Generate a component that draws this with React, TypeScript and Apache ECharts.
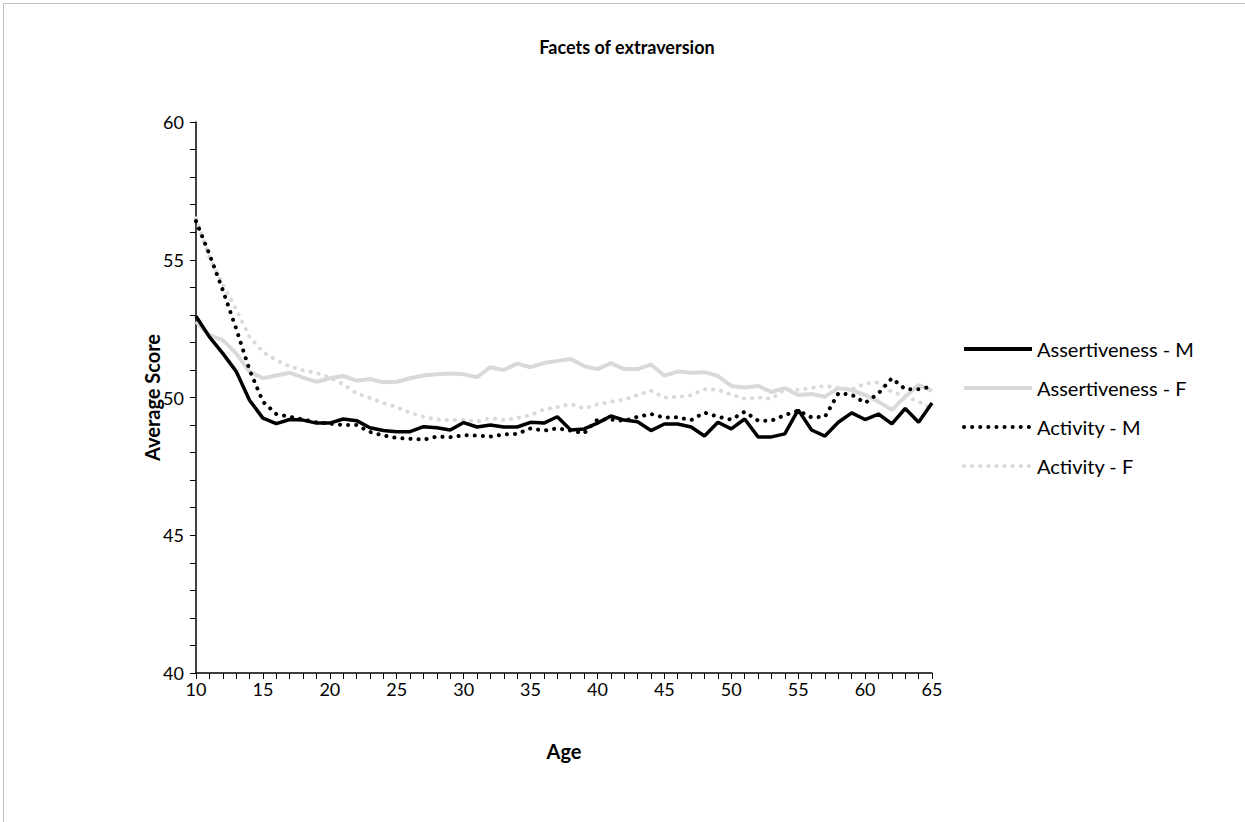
import React, { useEffect, useRef } from "react";
import * as echarts from "echarts";

const ages = [
  10, 11, 12, 13, 14, 15, 16, 17, 18, 19, 20, 21, 22, 23, 24, 25, 26, 27, 28, 29,
  30, 31, 32, 33, 34, 35, 36, 37, 38, 39, 40, 41, 42, 43, 44, 45, 46, 47, 48, 49,
  50, 51, 52, 53, 54, 55, 56, 57, 58, 59, 60, 61, 62, 63, 64, 65,
];

const assertivenessM = [
  52.95, 52.2, 51.6, 50.95, 49.9, 49.25, 49.05, 49.2, 49.18, 49.07, 49.07, 49.22, 49.16, 48.9, 48.8, 48.76, 48.76, 48.94, 48.9, 48.82,
  49.09, 48.93, 49.0, 48.93, 48.93, 49.1, 49.07, 49.3, 48.82, 48.86, 49.07, 49.33, 49.18, 49.12, 48.8, 49.04, 49.04, 48.93, 48.6, 49.1,
  48.86, 49.22, 48.57, 48.57, 48.68, 49.55, 48.82, 48.6, 49.1, 49.44, 49.2, 49.4, 49.04, 49.6, 49.1, 49.8,
];

const assertivenessF = [
  52.75, 52.27, 52.08, 51.6, 50.94, 50.7, 50.8, 50.9, 50.72, 50.57, 50.7, 50.78, 50.61, 50.67, 50.55, 50.57, 50.7, 50.8, 50.84, 50.87,
  50.84, 50.74, 51.1, 51.0, 51.23, 51.1, 51.25, 51.33, 51.4, 51.14, 51.03, 51.25, 51.03, 51.03, 51.2, 50.8, 50.94, 50.9, 50.92, 50.78,
  50.42, 50.36, 50.42, 50.2, 50.34, 50.09, 50.13, 50.03, 50.34, 50.27, 50.09, 49.85, 49.55, 50.03, 50.45, 50.25,
];

const activityM = [
  56.4, 55.2, 53.9, 52.5, 51.0, 49.85, 49.4, 49.3, 49.2, 49.1, 49.05, 49.0, 49.0, 48.75, 48.62, 48.53, 48.5, 48.47, 48.58, 48.56,
  48.63, 48.62, 48.58, 48.66, 48.68, 48.88, 48.8, 48.88, 48.8, 48.7, 49.2, 49.2, 49.15, 49.3, 49.4, 49.27, 49.28, 49.18, 49.45, 49.3,
  49.2, 49.48, 49.16, 49.16, 49.36, 49.52, 49.28, 49.3, 50.15, 50.1, 49.8, 50.15, 50.7, 50.3, 50.3, 50.4,
];

const activityF = [
  56.5, 55.1, 54.1, 53.2, 52.2, 51.65, 51.36, 51.13, 50.98, 50.89, 50.72, 50.48, 50.15, 49.98, 49.8, 49.65, 49.45, 49.3, 49.2, 49.18,
  49.18, 49.13, 49.25, 49.18, 49.25, 49.36, 49.57, 49.65, 49.76, 49.6, 49.75, 49.85, 49.92, 50.09, 50.25, 50.0, 50.02, 50.08, 50.3, 50.28,
  50.1, 49.95, 50.0, 49.95, 50.3, 50.28, 50.35, 50.42, 50.35, 50.3, 50.5, 50.55, 50.2, 50.05, 49.85, 49.6,
];

const seriesNames = ["Assertiveness - M", "Assertiveness - F", "Activity - M", "Activity - F"];

const BLACK = "#000000";
const GRAY = "#d9d9d9";
const FONT = "Lato, 'Open Sans', sans-serif";

export default function App() {
  const ref = useRef<HTMLDivElement>(null);

  useEffect(() => {
    if (!ref.current) return;
    const chart = echarts.init(ref.current, undefined, { renderer: "svg" });
    const pair = (vals: number[]) => ages.map((a, i) => [a, vals[i]]);
    const dotted = [0.1, 8];

    chart.setOption({
      animation: false,
      backgroundColor: "#ffffff",
      textStyle: { fontFamily: FONT },
      title: {
        text: "Facets of extraversion",
        left: 622,
        top: 33,
        textAlign: "center",
        textStyle: { fontFamily: FONT, fontWeight: "bold", fontSize: 18, color: "#000" },
      },
      graphic: [
        {
          type: "polyline",
          shape: { points: [[3.5, 900], [3.5, 3.5], [1300, 3.5]] },
          style: { stroke: "#bfbfbf", lineWidth: 1, fill: "none" },
          silent: true,
        },
      ],
      grid: { left: 196, right: 313, top: 122, bottom: 149, containLabel: false },
      legend: {
        orient: "vertical",
        left: 957,
        top: 333,
        itemWidth: 68,
        itemHeight: 14,
        itemGap: 17,
        data: seriesNames,
        itemStyle: { opacity: 0 },
        lineStyle: { width: 4 },
        textStyle: { fontFamily: FONT, fontSize: 20, color: "#000", lineHeight: 22 },
      },
      xAxis: {
        type: "value",
        min: 10,
        max: 65,
        interval: 5,
        name: "Age",
        nameLocation: "middle",
        nameGap: 68,
        nameTextStyle: { fontFamily: FONT, fontWeight: "bold", fontSize: 20, color: "#000" },
        axisLine: { show: true, onZero: false, lineStyle: { color: "#000", width: 1.5 } },
        axisTick: { show: true, inside: false, length: 6, lineStyle: { color: "#000", width: 1 } },
        minorTick: { show: true, splitNumber: 5, length: 6, lineStyle: { color: "#000", width: 1 } },
        axisLabel: { fontFamily: FONT, fontSize: 18, color: "#000", margin: 7 },
        splitLine: { show: false },
      },
      yAxis: {
        type: "value",
        min: 40,
        max: 60,
        interval: 5,
        name: "Average Score",
        nameLocation: "middle",
        nameGap: 34,
        nameMoveOverlap: false,
        nameTextStyle: { fontFamily: FONT, fontWeight: "bold", fontSize: 20, color: "#000" },
        axisLine: { show: true, lineStyle: { color: "#000", width: 1.5 } },
        axisTick: { show: true, inside: false, length: 6, lineStyle: { color: "#000", width: 1 } },
        minorTick: { show: true, splitNumber: 5, length: 6, lineStyle: { color: "#000", width: 1 } },
        axisLabel: { fontFamily: FONT, fontSize: 18, color: "#000", margin: 12 },
        splitLine: { show: false },
      },
      series: [
        {
          name: seriesNames[1],
          type: "line",
          data: pair(assertivenessF),
          symbol: "none",
          z: 2,
          itemStyle: { color: GRAY },
          lineStyle: { color: GRAY, width: 4 },
        },
        {
          name: seriesNames[3],
          type: "line",
          data: pair(activityF),
          symbol: "none",
          z: 2,
          itemStyle: { color: GRAY },
          lineStyle: { color: GRAY, width: 4, type: dotted, cap: "round" },
        },
        {
          name: seriesNames[2],
          type: "line",
          data: pair(activityM),
          symbol: "none",
          z: 3,
          itemStyle: { color: BLACK },
          lineStyle: { color: BLACK, width: 4, type: dotted, cap: "round" },
        },
        {
          name: seriesNames[0],
          type: "line",
          data: pair(assertivenessM),
          symbol: "none",
          z: 4,
          itemStyle: { color: BLACK },
          lineStyle: { color: BLACK, width: 3.5 },
        },
      ],
    });
    return () => chart.dispose();
  }, []);

  return (
    <div
      ref={ref}
      style={{ position: "fixed", left: 0, top: 0, width: 1245, height: 822, background: "#fff" }}
    />
  );
}
